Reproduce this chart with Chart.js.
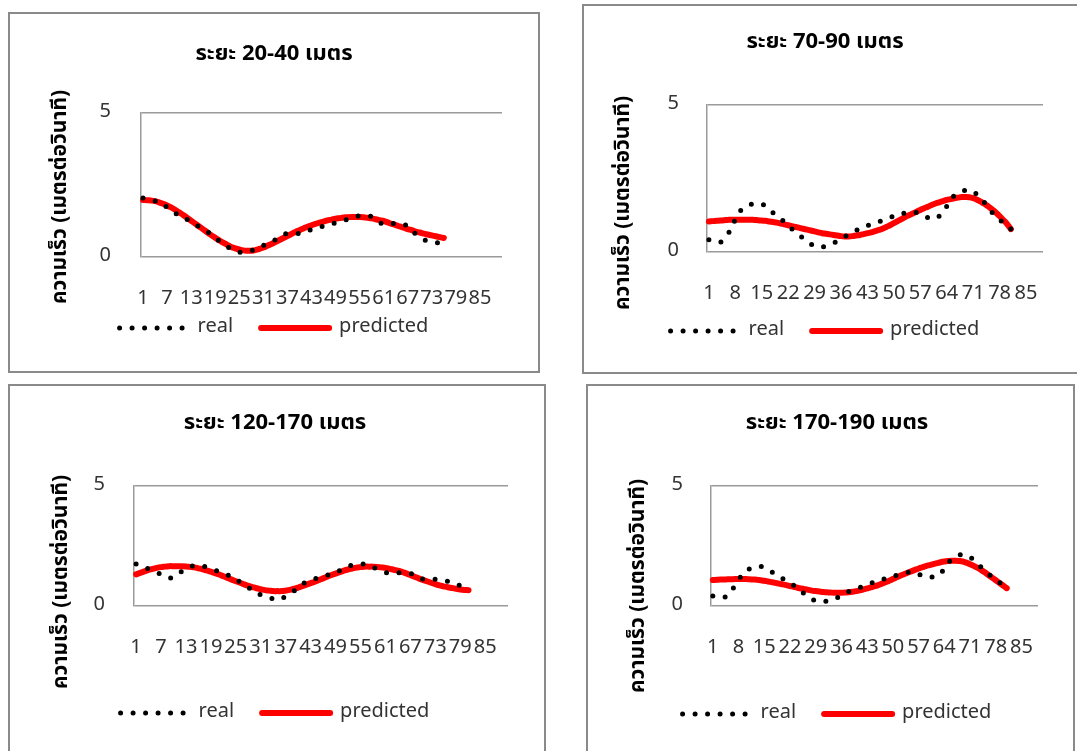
<!DOCTYPE html>
<html>
<head>
<meta charset="utf-8">
<script src="https://cdn.jsdelivr.net/npm/chart.js@4/dist/chart.umd.min.js"></script>
<style>
  body { margin: 0; background: #fff; overflow: hidden; width: 1077px; height: 751px; position: relative; }
  .panel { position: absolute; border: 2px solid #8a8a8a; background: #fff; }
  .panel canvas { display: block; }
</style>
</head>
<body>
<div class="panel" style="left:8px;top:12px;width:528px;height:357px"><canvas id="c1" width="528" height="357"></canvas></div>
<div class="panel" style="left:582px;top:4px;width:495px;height:366px"><canvas id="c2" width="495" height="366"></canvas></div>
<div class="panel" style="left:8px;top:384px;width:534px;height:365px"><canvas id="c3" width="534" height="365"></canvas></div>
<div class="panel" style="left:586px;top:384px;width:485px;height:365px"><canvas id="c4" width="485" height="365"></canvas></div>
<script>
const FONT = "'Noto Sans Thai', 'Noto Sans', 'Noto Sans CJK SC', sans-serif";

// sample numbers on the category axis
const samples = [1, 2, 3, 4, 5, 6, 7, 8, 9, 10, 11, 12, 13, 14, 15, 16, 17, 18, 19, 20,
  21, 22, 23, 24, 25, 26, 27, 28, 29, 30, 31, 32, 33, 34, 35, 36, 37, 38, 39, 40,
  41, 42, 43, 44, 45, 46, 47, 48, 49, 50, 51, 52, 53, 54, 55, 56, 57, 58, 59, 60,
  61, 62, 63, 64, 65, 66, 67, 68, 69, 70, 71, 72, 73, 74, 75, 76, 77, 78, 79, 80,
  81, 82, 83, 84, 85, 86, 87, 88, 89, 90];

// labels that get printed on the x axis
const ticksEvery6 = [1, 7, 13, 19, 25, 31, 37, 43, 49, 55, 61, 67, 73, 79, 85];
const ticksEvery7 = [1, 8, 15, 22, 29, 36, 43, 50, 57, 64, 71, 78, 85];

const titles = ['ระยะ 20-40 เมตร', 'ระยะ 70-90 เมตร', 'ระยะ 120-170 เมตร', 'ระยะ 170-190 เมตร'];
const yTitle = 'ความเร็ว (เมตรต่อวินาที)';
const seriesNames = ['real', 'predicted'];

// speed (m/s), 20-40 m
const real20 = [2.05, 2.02, 1.98, 1.95, 1.90, 1.85, 1.72, 1.60, 1.52, 1.45,
  1.38, 1.30, 1.20, 1.12, 1.05, 0.96, 0.88, 0.78, 0.67, 0.56,
  0.45, 0.36, 0.28, 0.20, 0.17, 0.17, 0.18, 0.22, 0.27, 0.33,
  0.40, 0.46, 0.53, 0.60, 0.70, 0.78, 0.82, 0.82, 0.81, 0.82,
  0.86, 0.91, 0.95, 1.00, 1.04, 1.07, 1.11, 1.15, 1.19, 1.23,
  1.27, 1.31, 1.35, 1.40, 1.43, 1.44, 1.43, 1.40, 1.30, 1.20,
  1.14, 1.14, 1.16, 1.17, 1.16, 1.14, 1.05, 0.92, 0.80, 0.68,
  0.60, 0.56, 0.53, 0.50, 0.48, 0.46];
const pred20 = [1.98, 1.97, 1.96, 1.94, 1.90, 1.85, 1.79, 1.72, 1.64, 1.55,
  1.46, 1.36, 1.26, 1.16, 1.06, 0.96, 0.86, 0.76, 0.67, 0.58,
  0.50, 0.42, 0.35, 0.30, 0.26, 0.23, 0.22, 0.22, 0.24, 0.28,
  0.33, 0.39, 0.45, 0.52, 0.59, 0.66, 0.73, 0.80, 0.87, 0.93,
  0.99, 1.05, 1.10, 1.15, 1.19, 1.23, 1.27, 1.30, 1.33, 1.35,
  1.37, 1.38, 1.39, 1.39, 1.39, 1.38, 1.36, 1.34, 1.31, 1.28,
  1.25, 1.20, 1.15, 1.11, 1.06, 1.02, 0.97, 0.93, 0.88, 0.85,
  0.81, 0.78, 0.75, 0.72, 0.69, 0.66];

// speed (m/s), 70-90 m
const real70 = [0.42, 0.38, 0.34, 0.33, 0.45, 0.60, 0.85, 1.10, 1.35, 1.48,
  1.58, 1.62, 1.64, 1.65, 1.64, 1.55, 1.44, 1.33, 1.22, 1.13,
  1.02, 0.90, 0.78, 0.66, 0.58, 0.46, 0.35, 0.27, 0.20, 0.17,
  0.17, 0.20, 0.24, 0.30, 0.37, 0.43, 0.52, 0.60, 0.67, 0.73,
  0.79, 0.85, 0.90, 0.95, 0.99, 1.03, 1.08, 1.12, 1.17, 1.22,
  1.26, 1.30, 1.33, 1.36, 1.36, 1.34, 1.31, 1.25, 1.17, 1.12,
  1.14, 1.22, 1.32, 1.55, 1.75, 1.92, 2.01, 2.06, 2.10, 2.12,
  2.06, 1.96, 1.85, 1.68, 1.50, 1.35, 1.22, 1.10, 0.99, 0.88,
  0.78];
const pred70 = [1.04, 1.05, 1.06, 1.07, 1.08, 1.09, 1.10, 1.10, 1.10, 1.10,
  1.10, 1.10, 1.09, 1.08, 1.07, 1.06, 1.04, 1.02, 1.00, 0.97,
  0.94, 0.91, 0.88, 0.85, 0.82, 0.79, 0.76, 0.73, 0.70, 0.67,
  0.64, 0.62, 0.60, 0.58, 0.56, 0.54, 0.53, 0.53, 0.54, 0.56,
  0.58, 0.61, 0.64, 0.67, 0.71, 0.75, 0.79, 0.85, 0.91, 0.98,
  1.05, 1.12, 1.19, 1.25, 1.31, 1.37, 1.43, 1.49, 1.54, 1.60,
  1.65, 1.69, 1.73, 1.77, 1.80, 1.83, 1.85, 1.87, 1.87, 1.86,
  1.83, 1.78, 1.71, 1.64, 1.55, 1.45, 1.34, 1.22, 1.09, 0.95,
  0.78];

// speed (m/s), 120-170 m
const real120 = [1.75, 1.70, 1.63, 1.55, 1.48, 1.40, 1.32, 1.24, 1.16, 1.22,
  1.32, 1.45, 1.57, 1.64, 1.68, 1.69, 1.66, 1.62, 1.57, 1.50,
  1.43, 1.37, 1.30, 1.22, 1.12, 1.01, 0.91, 0.78, 0.64, 0.55,
  0.47, 0.42, 0.36, 0.30, 0.25, 0.32, 0.40, 0.52, 0.63, 0.76,
  0.90, 1.02, 1.08, 1.13, 1.18, 1.23, 1.28, 1.33, 1.40, 1.48,
  1.56, 1.64, 1.71, 1.74, 1.75, 1.75, 1.70, 1.62, 1.54, 1.47,
  1.40, 1.38, 1.38, 1.38, 1.38, 1.37, 1.36, 1.28, 1.18, 1.12,
  1.11, 1.11, 1.11, 1.09, 1.06, 1.03, 0.97, 0.90, 0.85, 0.80];
const pred120 = [1.32, 1.38, 1.44, 1.50, 1.55, 1.59, 1.62, 1.64, 1.66, 1.66,
  1.66, 1.66, 1.65, 1.63, 1.61, 1.57, 1.53, 1.48, 1.43, 1.37,
  1.31, 1.24, 1.17, 1.10, 1.03, 0.97, 0.90, 0.84, 0.79, 0.74,
  0.70, 0.66, 0.64, 0.62, 0.62, 0.62, 0.64, 0.67, 0.72, 0.77,
  0.83, 0.89, 0.95, 1.01, 1.08, 1.15, 1.22, 1.29, 1.35, 1.41,
  1.47, 1.52, 1.56, 1.60, 1.62, 1.64, 1.64, 1.64, 1.63, 1.61,
  1.59, 1.55, 1.51, 1.47, 1.42, 1.36, 1.29, 1.22, 1.15, 1.09,
  1.03, 0.97, 0.91, 0.86, 0.82, 0.78, 0.75, 0.72, 0.69, 0.67,
  0.66];

// speed (m/s), 170-190 m
const real170 = [0.42, 0.40, 0.37, 0.35, 0.45, 0.62, 0.85, 1.08, 1.30, 1.45,
  1.55, 1.62, 1.66, 1.65, 1.60, 1.52, 1.42, 1.32, 1.24, 1.14,
  1.04, 0.97, 0.86, 0.74, 0.62, 0.50, 0.38, 0.28, 0.22, 0.19,
  0.18, 0.20, 0.24, 0.28, 0.36, 0.45, 0.53, 0.60, 0.66, 0.71,
  0.77, 0.84, 0.90, 0.95, 1.00, 1.04, 1.09, 1.14, 1.18, 1.23,
  1.28, 1.32, 1.36, 1.40, 1.43, 1.40, 1.33, 1.26, 1.22, 1.21,
  1.21, 1.22, 1.35, 1.55, 1.78, 1.95, 2.05, 2.11, 2.15, 2.12,
  2.03, 1.92, 1.78, 1.62, 1.47, 1.33, 1.22, 1.10, 0.98, 0.86];
const pred170 = [1.08, 1.09, 1.10, 1.10, 1.11, 1.11, 1.12, 1.12, 1.12, 1.12,
  1.11, 1.10, 1.09, 1.07, 1.05, 1.02, 0.99, 0.96, 0.93, 0.90,
  0.87, 0.83, 0.80, 0.76, 0.73, 0.70, 0.67, 0.64, 0.62, 0.60,
  0.58, 0.57, 0.56, 0.55, 0.55, 0.55, 0.56, 0.57, 0.59, 0.62,
  0.65, 0.69, 0.73, 0.77, 0.82, 0.87, 0.93, 0.99, 1.05, 1.12,
  1.19, 1.26, 1.32, 1.38, 1.44, 1.50, 1.56, 1.61, 1.66, 1.70,
  1.74, 1.78, 1.82, 1.85, 1.87, 1.88, 1.88, 1.87, 1.85, 1.80,
  1.74, 1.67, 1.59, 1.50, 1.40, 1.29, 1.18, 1.07, 0.96, 0.85,
  0.74];

// rotated y-axis caption, placed a bit below the plot centre
const yCaption = {
  id: 'yCaption',
  afterDraw(chart, args, opts) {
    const ctx = chart.ctx;
    ctx.save();
    ctx.translate(opts.x, opts.y);
    ctx.rotate(-Math.PI / 2);
    ctx.font = 'bold 21px ' + FONT;
    ctx.fillStyle = '#000';
    ctx.textAlign = 'center';
    ctx.textBaseline = 'middle';
    ctx.fillText(yTitle, 0, 0);
    ctx.restore();
  }
};

function makeChart(id, title, real, pred, count, tickList, lay) {
  const ctx = document.getElementById(id).getContext('2d');
  return new Chart(ctx, {
    type: 'line',
    data: {
      labels: samples.slice(0, count),
      datasets: [
        {
          label: seriesNames[0],
          data: real,
          borderColor: '#000',
          borderWidth: 5,
          borderDash: [0, 12.5],
          borderCapStyle: 'round',
          pointRadius: 0,
          tension: 0.4,
          fill: false
        },
        {
          label: seriesNames[1],
          data: pred,
          borderColor: '#ff0000',
          borderWidth: 6,
          borderDash: [],
          borderCapStyle: 'round',
          borderJoinStyle: 'round',
          pointRadius: 0,
          tension: 0.4,
          fill: false
        }
      ]
    },
    options: {
      responsive: false,
      animation: false,
      events: [],
      layout: { padding: { top: 0, left: lay.L, right: lay.R, bottom: lay.padB } },
      scales: {
        x: {
          type: 'category',
          offset: true,
          grid: { display: false, drawTicks: false },
          border: { display: false },
          ticks: {
            autoSkip: false,
            maxRotation: 0,
            minRotation: 0,
            // mirrored (so not clipped to the short axis box), pushed back below the axis
            mirror: true,
            padding: lay.xPad,
            color: '#333',
            font: { family: FONT, size: 20 },
            callback: function (value) {
              const lbl = this.getLabelForValue(value);
              return tickList.includes(lbl) ? String(lbl) : '';
            }
          },
          afterFit: (scale) => { scale.height = lay.xh; }
        },
        y: {
          min: 0,
          max: 5,
          grid: { color: '#9a9a9a', lineWidth: 1.5, drawTicks: false },
          border: { display: true, color: '#9a9a9a', width: 1.5 },
          ticks: {
            stepSize: 5,
            padding: lay.yPad,
            color: '#333',
            font: { family: FONT, size: 20 }
          },
          afterFit: (scale) => { scale.width = lay.yw; }
        }
      },
      plugins: {
        title: {
          display: true,
          text: title,
          color: '#000',
          font: { family: FONT, size: 22, weight: 'bold' },
          padding: { top: lay.tTop, bottom: lay.tBot }
        },
        legend: {
          position: 'bottom',
          labels: {
            usePointStyle: true,
            pointStyle: 'line',
            pointStyleWidth: 68,
            padding: 28,
            color: '#333',
            font: { family: FONT, size: 20 },
            generateLabels: (chart) => chart.data.datasets.map((ds, i) => ({
              text: ds.label,
              fillStyle: 'transparent',
              strokeStyle: ds.borderColor,
              lineWidth: ds.borderWidth,
              lineDash: ds.borderDash,
              lineCap: 'round',
              pointStyle: 'line',
              fontColor: '#333',
              hidden: false,
              datasetIndex: i
            }))
          }
        },
        tooltip: { enabled: false },
        yCaption: { x: lay.capX, y: lay.capY }
      }
    },
    plugins: [yCaption]
  });
}

makeChart('c1', titles[0], real20, pred20, 90, ticksEvery6,
  { L: 36, R: 36, padB: 23, tTop: 28.8, tBot: 43.8, yw: 95, yPad: 30, xh: 33, xPad: -55, capX: 52, capY: 183 });
makeChart('c2', titles[1], real70, pred70, 89, ticksEvery7,
  { L: 23, R: 36, padB: 21, tTop: 24.8, tBot: 47.8, yw: 100, yPad: 28, xh: 41, xPad: -54.7, capX: 41, capY: 197 });
makeChart('c3', titles[2], real120, pred120, 90, ticksEvery6,
  { L: 32, R: 36, padB: 18, tTop: 25.8, tBot: 47.8, yw: 92, yPad: 29, xh: 69, xPad: -55, capX: 53, capY: 196 });
makeChart('c4', titles[3], real170, pred170, 89, ticksEvery7,
  { L: 48, R: 35, padB: 17, tTop: 25.8, tBot: 47.5, yw: 75, yPad: 28, xh: 70, xPad: -55, capX: 52, capY: 200 });
</script>
</body>
</html>
